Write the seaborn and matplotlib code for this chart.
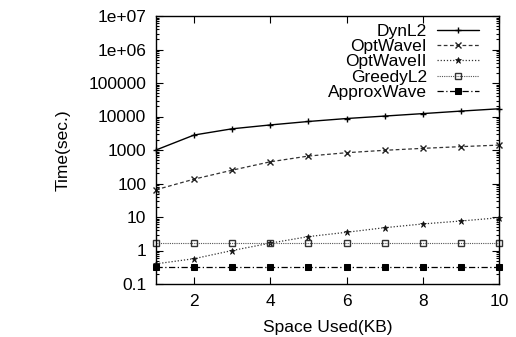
import numpy as np
import pandas as pd
import matplotlib
matplotlib.use("Agg")
import matplotlib.pyplot as plt
import seaborn as sns
from matplotlib.ticker import LogLocator, FixedLocator, NullFormatter

x = [1, 2, 3, 4, 5, 6, 7, 8, 9, 10]
dynl2 = [1000, 2800, 4300, 5600, 7100, 8700, 10300, 12200, 14500, 17000]
optwave1 = [65, 135, 250, 445, 660, 830, 980, 1120, 1260, 1400]
optwave2 = [0.4, 0.57, 1.0, 1.66, 2.6, 3.5, 4.8, 6.2, 7.6, 9.5]
greedyl2 = [1.7, 1.7, 1.7, 1.7, 1.7, 1.7, 1.7, 1.7, 1.7, 1.7]
approxwave = [0.32, 0.32, 0.32, 0.32, 0.32, 0.32, 0.32, 0.32, 0.32, 0.32]
names = ["DynL2", "OptWaveI", "OptWaveII", "GreedyL2", "ApproxWave"]
series = [dynl2, optwave1, optwave2, greedyl2, approxwave]
ytick_vals = [0.1, 1, 10, 100, 1000, 10000, 100000, 1e6, 1e7]
ytick_labels = ["0.1", "1", "10", "100", "1000", "10000", "100000", "1e+06", "1e+07"]
xtick_vals = [2, 4, 6, 8, 10]

df = pd.DataFrame({"x": np.tile(x, len(names)),
                   "y": np.concatenate(series),
                   "name": np.repeat(names, len(x))})

sns.set_style("ticks")
plt.rcParams["font.family"] = ["Liberation Sans", "DejaVu Sans"]
plt.rcParams["text.color"] = "black"
plt.rcParams["axes.labelcolor"] = "black"
plt.rcParams["xtick.color"] = "black"
plt.rcParams["ytick.color"] = "black"
fs = 12.5

fig = plt.figure(figsize=(5.16, 3.37), dpi=100)
L, R, T, B = 156, 499, 16, 284
ax = fig.add_axes([L/516, 1-B/337, (R-L)/516, (B-T)/337])

styles = {
    "DynL2": dict(color="black", linestyle="-", marker="+", markersize=5, mew=1.0, mec="black", lw=1.0),
    "OptWaveI": dict(color="#333333", linestyle=(0, (3, 2)), marker="x", markersize=4, mew=1.0, mec="#222222", lw=0.9),
    "OptWaveII": dict(color="#333333", linestyle=(0, (1, 1.5)), marker="*", markersize=5, mew=0.5, mec="#111111", mfc="#111111", lw=0.9),
    "GreedyL2": dict(color="#555555", linestyle=(0, (1, 1)), marker="s", markersize=4.5, mfc="none", mew=1.0, mec="#333333", lw=0.8),
    "ApproxWave": dict(color="black", linestyle=(0, (5, 2, 1, 2)), marker="s", markersize=4.5, mec="black", mfc="black", lw=0.9),
}
for n in names:
    sub = df[df["name"] == n]
    sns.lineplot(data=sub, x="x", y="y", ax=ax, label=n, clip_on=False, **styles[n])

ax.set_yscale("log")
ax.set_xlim(1, 10)
ax.set_ylim(0.1, 1e7)
ax.yaxis.set_major_locator(FixedLocator(ytick_vals))
ax.set_yticklabels(ytick_labels)
ax.yaxis.set_minor_locator(LogLocator(base=10, subs=[2, 3, 4, 5, 6, 7, 8, 9], numticks=20))
ax.yaxis.set_minor_formatter(NullFormatter())
ax.xaxis.set_major_locator(FixedLocator(xtick_vals))
ax.set_xticklabels([str(v) for v in xtick_vals])
ax.tick_params(which="both", direction="in", top=True, right=True, labelsize=fs, width=0.8, pad=7)
ax.tick_params(which="major", length=5)
ax.tick_params(which="minor", length=2.5)
for s in ax.spines.values():
    s.set_linewidth(1.0)
    s.set_color("black")
ax.set_xlabel("Space Used(KB)", fontsize=fs, labelpad=8)
ax.set_ylabel("Time(sec.)", fontsize=fs, labelpad=13)
ax.grid(False)

leg = ax.legend(loc="upper right", markerfirst=False, frameon=False, fontsize=fs,
                handlelength=2.4, handletextpad=0.6, labelspacing=0.0,
                borderaxespad=0.0, borderpad=0.0,
                bbox_to_anchor=((479 - L) / (R - L), 1 - (24 - T) / (B - T)))

fig.savefig("out.png", dpi=100)
